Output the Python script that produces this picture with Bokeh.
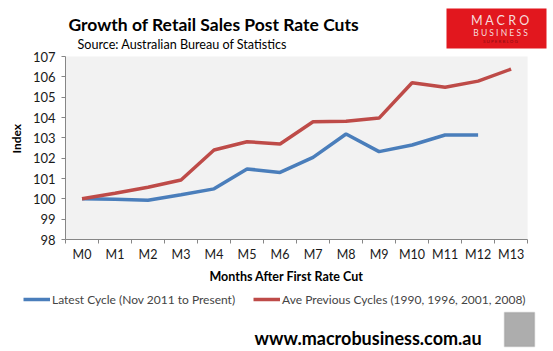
from bokeh.plotting import figure
from bokeh.layouts import column
from bokeh.models import (Range1d, FixedTicker, Label, Legend, LegendItem,
                          BoxAnnotation, Title)
from bokeh.embed import file_html
from bokeh.resources import INLINE

# ---- data ----
months = ["M0", "M1", "M2", "M3", "M4", "M5", "M6", "M7", "M8", "M9",
          "M10", "M11", "M12", "M13"]
latest = [100.0, 99.98, 99.93, 100.2, 100.49, 101.47, 101.3, 102.04,
          103.19, 102.32, 102.65, 103.14, 103.14]
previous = [100.0, 100.27, 100.57, 100.93, 102.4, 102.81, 102.7, 103.79,
            103.82, 103.97, 105.71, 105.49, 105.79, 106.38]
y_ticks = [98, 99, 100, 101, 102, 103, 104, 105, 106, 107]
y_min, y_max = 98, 107
title = "Growth of Retail Sales Post Rate Cuts"
subtitle = "Source: Australian Bureau of Statistics"
x_title = "Months After First Rate Cut"
y_title = "Index"
latest_name = "Latest Cycle (Nov 2011 to Present)"
previous_name = "Ave Previous Cycles (1990, 1996, 2001, 2008)"
footer = "www.macrobusiness.com.au"

FONT = "Lato"
W = 553
BLUE = "#4a7ebb"
RED = "#be4b48"
# plot-area box in page pixels
L, R, T, B = 63, 527, 56, 239
H_MAIN, H_BOT = 291, 60

n = len(months)
px_x = (R - L) / n
px_y = (B - T) / (y_max - y_min)

# frame spans the whole top of the page so that title & logo share it
p = figure(width=W, height=H_MAIN, output_backend="svg", toolbar_location=None,
           x_range=Range1d(0, n + (W - R) / px_x),
           y_range=Range1d(y_min, y_max + T / px_y),
           min_border_left=L, min_border_right=0,
           min_border_top=0, min_border_bottom=H_MAIN - B, frame_align=False)
p.background_fill_color = "white"
p.border_fill_color = "white"
p.outline_line_color = None
p.xgrid.visible = False
p.ygrid.visible = False
p.add_layout(BoxAnnotation(left=0, right=n, bottom=y_min, top=y_max,
                           fill_color="#f2f2f2", fill_alpha=1,
                           line_color=None, level="underlay"))

x_latest = [i + 0.5 for i in range(len(latest))]
x_prev = [i + 0.5 for i in range(len(previous))]
p.line(x_latest, latest, line_color=BLUE, line_width=3.5)
p.line(x_prev, previous, line_color=RED, line_width=3.5)

xa = p.xaxis[0]
xa.bounds = (0, n)
xa.ticker = FixedTicker(ticks=x_prev, minor_ticks=list(range(n + 1)))
xa.major_label_overrides = {i + 0.5: m for i, m in enumerate(months)}
xa.major_tick_line_color = None
xa.major_tick_in = 0
xa.major_tick_out = 0
xa.minor_tick_in = 0
xa.minor_tick_out = 4
xa.minor_tick_line_color = "#868686"
xa.axis_line_color = "#868686"
xa.major_label_standoff = 3
xa.major_label_text_font = FONT
xa.major_label_text_font_size = "12.5px"
xa.major_label_text_color = "#1a1a1a"

ya = p.yaxis[0]
ya.bounds = (y_min, y_max)
ya.ticker = FixedTicker(ticks=y_ticks)
ya.major_tick_in = 0
ya.major_tick_out = 4
ya.minor_tick_line_color = None
ya.major_tick_line_color = "#868686"
ya.axis_line_color = "#868686"
ya.major_label_standoff = 6
ya.major_label_text_font = FONT
ya.major_label_text_font_size = "13px"
ya.major_label_text_color = "#1a1a1a"

# axis titles placed along the plot-area part of each axis
p.add_layout(Title(text=x_title, align="left", offset=207 - L, standoff=4,
                   text_font=FONT, text_font_style="bold",
                   text_font_size="12.5px", text_color="black"), "below")
p.add_layout(Title(text=y_title, align="left", offset=B - 153, standoff=12,
                   text_font=FONT, text_font_style="bold",
                   text_font_size="12px", text_color="black"), "left")


def slabel(f, text, px, py, size, bold=False, color="black", align="left",
           left=L, bottom=B):
    f.add_layout(Label(x=px - left, y=bottom - py, x_units="screen",
                       y_units="screen", text=text, text_font=FONT,
                       text_font_size=size,
                       text_font_style="bold" if bold else "normal",
                       text_color=color, text_align=align,
                       text_baseline="middle"))


def sbox(f, l, r, t, b, left=L, bottom=B, **kw):
    f.add_layout(BoxAnnotation(left=l - left, right=r - left,
                               top=bottom - t, bottom=bottom - b,
                               left_units="screen", right_units="screen",
                               top_units="screen", bottom_units="screen",
                               fill_alpha=1, **kw))


# title, subtitle, logo
slabel(p, title, 66, 24, "17.5px", bold=True)
slabel(p, subtitle, 75, 44, "12.6px")
sbox(p, 444, 544, 8, 48, fill_color="#e2171e", line_color=None)
slabel(p, "M A C R O", 498, 20, "12.5px", color="#f6dcdc", align="center")
slabel(p, "B U S I N E S S", 498, 32, "8.5px", color="#f6dcdc", align="center")
slabel(p, "S U P E R B L O G", 498, 41, "4.5px", color="#8a0c10",
       align="center")

# ---------- bottom: legend, footer ----------
bot = figure(width=W, height=H_BOT, output_backend="svg", toolbar_location=None,
             x_range=Range1d(0, W), y_range=Range1d(H_BOT, 0), min_border=0,
             min_border_left=0, min_border_right=0, min_border_top=0,
             min_border_bottom=0, x_axis_location=None, y_axis_location=None,
             frame_align=False)
bot.outline_line_color = None
bot.xgrid.visible = False
bot.ygrid.visible = False
nan = float("nan")
lb = bot.line([nan], [nan], line_color=BLUE, line_width=3.5)
lr = bot.line([nan], [nan], line_color=RED, line_width=3.5)
legend = Legend(items=[LegendItem(label=latest_name, renderers=[lb]),
                       LegendItem(label=previous_name, renderers=[lr])],
                orientation="horizontal", location=(23, H_BOT - 16),
                label_text_font=FONT, label_text_font_size="12px",
                glyph_width=27, glyph_height=16, label_height=16,
                label_standoff=2, spacing=18,
                background_fill_alpha=0, border_line_color=None,
                padding=0, margin=0)
bot.add_layout(legend, "center")
slabel(bot, footer, 254, 46 + H_MAIN, "18px", bold=True, left=0,
       bottom=H_MAIN + H_BOT)
sbox(bot, 504, 534, 21 + H_MAIN, 55 + H_MAIN, left=0, bottom=H_MAIN + H_BOT,
     fill_color="#adadad", line_color="#8c8c8c", line_width=1.5)

layout = column(p, bot, spacing=0)
open("out.html", "w").write(file_html(layout, INLINE))
